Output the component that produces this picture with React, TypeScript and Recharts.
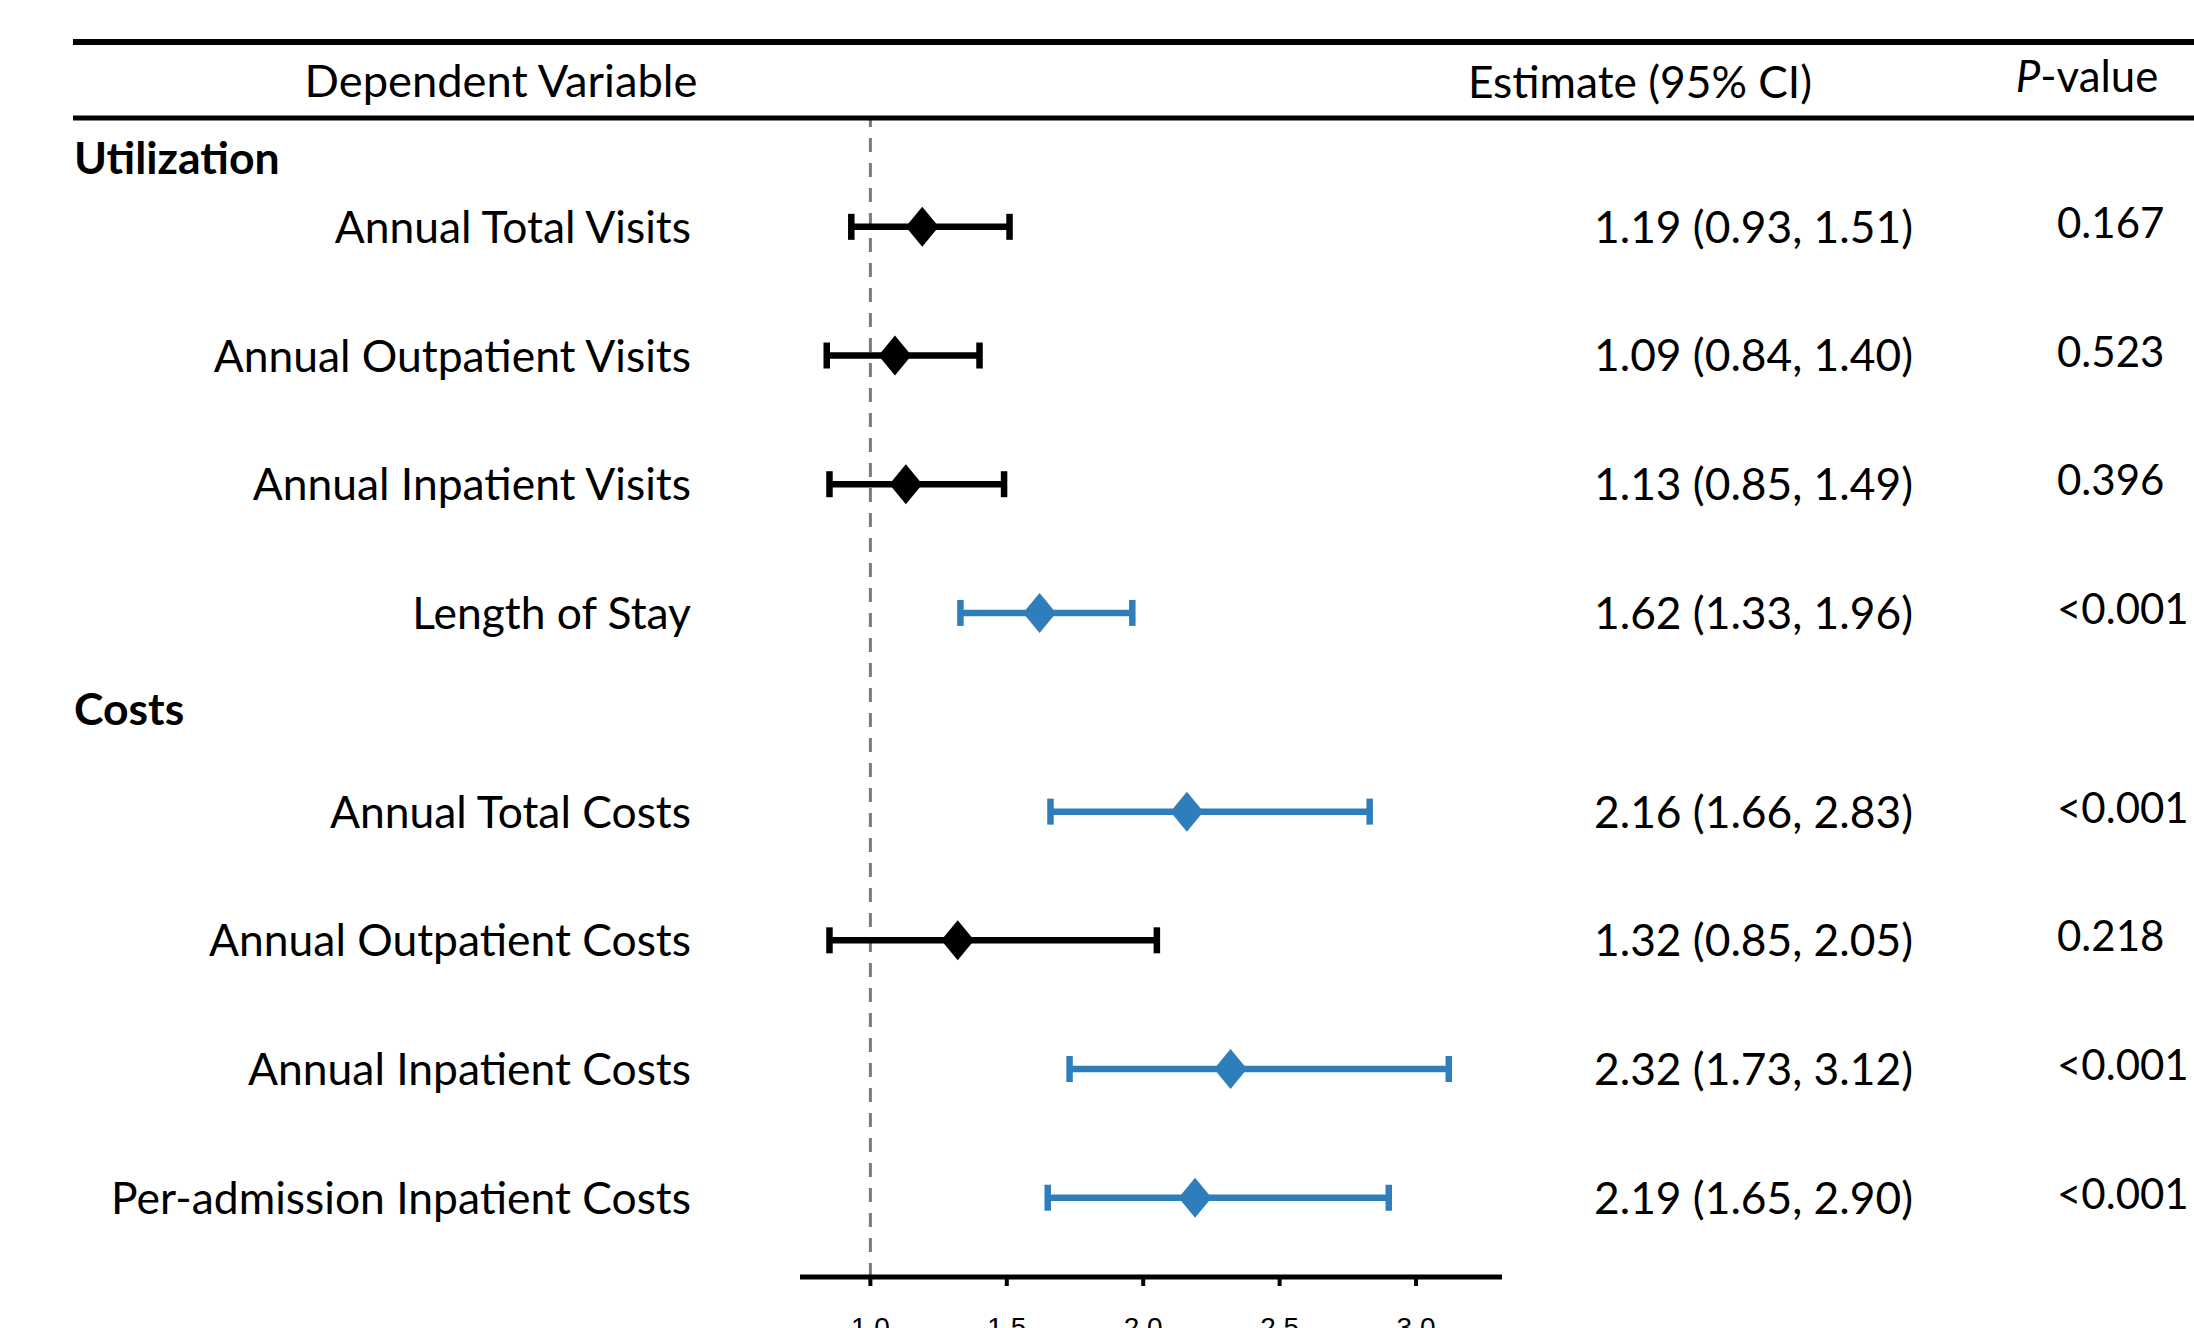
import { ScatterChart, Scatter, XAxis, YAxis, ErrorBar, ReferenceLine } from 'recharts';

// table data, top to bottom
const labels = [
  'Annual Total Visits',
  'Annual Outpatient Visits',
  'Annual Inpatient Visits',
  'Length of Stay',
  'Annual Total Costs',
  'Annual Outpatient Costs',
  'Annual Inpatient Costs',
  'Per-admission Inpatient Costs',
];
const groups = ['Utilization', 'Utilization', 'Utilization', 'Utilization', 'Costs', 'Costs', 'Costs', 'Costs'];
const groupNames = ['Utilization', 'Costs'];
const estimates = [1.19, 1.09, 1.13, 1.62, 2.16, 1.32, 2.32, 2.19];
const lower = [0.93, 0.84, 0.85, 1.33, 1.66, 0.85, 1.73, 1.65];
const upper = [1.51, 1.4, 1.49, 1.96, 2.83, 2.05, 3.12, 2.9];
const pValues = ['0.167', '0.523', '0.396', '<0.001', '<0.001', '0.218', '<0.001', '<0.001'];
const xTicks = [1.0, 1.5, 2.0, 2.5, 3.0];

const BLUE = '#2e7ebb';
const BLACK = '#000000';
const FONT = 'Lato, sans-serif';

// layout
const W = 2194;
const H = 1328;
const GROUP_GAP = 0.544; // extra row space before the second group
const HEADER_OFFSET = [-0.533, -0.794]; // group header position relative to its first row
const LABEL_RIGHT = 691;
const EST_LEFT = 1594;
const P_LEFT = 2057;

const isSig = (p: string) => p.startsWith('<') || parseFloat(p) < 0.05;

const rows = labels.map((label, i) => {
  const g = groupNames.indexOf(groups[i]);
  return {
    label,
    pos: i + g * GROUP_GAP,
    est: estimates[i],
    err: [estimates[i] - lower[i], upper[i] - estimates[i]],
    ci: `${estimates[i].toFixed(2)} (${lower[i].toFixed(2)}, ${upper[i].toFixed(2)})`,
    p: pValues[i],
    sig: isSig(pValues[i]),
  };
});

const headerRows = groupNames.map((name, g) => {
  const first = rows.find((r) => groups[labels.indexOf(r.label)] === name)!;
  return { name, pos: first.pos + HEADER_OFFSET[g] };
});

const yTicks = [...headerRows.map((h) => h.pos), ...rows.map((r) => r.pos)].sort((a, b) => a - b);

const sigRows = rows.filter((r) => r.sig);
const nonSigRows = rows.filter((r) => !r.sig);

function Diamond(props: any) {
  const { cx, cy, fill } = props;
  if (cx == null || cy == null) return null;
  const hw = 16.5;
  const hh = 20;
  return <polygon points={`${cx},${cy - hh} ${cx + hw},${cy} ${cx},${cy + hh} ${cx - hw},${cy}`} fill={fill} />;
}

function RowTick(props: any) {
  const { y, payload } = props;
  const v = payload?.value;
  const header = headerRows.find((h) => Math.abs(h.pos - v) < 1e-6);
  if (header) {
    return (
      <text x={74} y={y} dy="0.36em" textAnchor="start" fontFamily={FONT} fontWeight={700} fontSize={44.5} fill="#000">
        {header.name}
      </text>
    );
  }
  const row = rows.find((r) => Math.abs(r.pos - v) < 1e-6);
  if (!row) return null;
  return (
    <g>
      <text x={LABEL_RIGHT} y={y} dy="0.36em" textAnchor="end" fontFamily={FONT} fontSize={44.4} fill="#000">
        {row.label}
      </text>
      <text x={EST_LEFT} y={y} dy="0.36em" textAnchor="start" fontFamily={FONT} fontSize={44.3} fill="#000">
        {row.ci}
      </text>
      <text x={P_LEFT} y={y - 4} dy="0.36em" textAnchor="start" fontFamily={FONT} fontSize={42} fill="#000">
        {row.p}
      </text>
    </g>
  );
}

export default function App() {
  return (
    <div style={{ position: 'absolute', left: 0, top: 0, width: W, height: H, background: '#fff' }}>
      <ScatterChart width={W} height={H} margin={{ top: 120, right: 692, bottom: 0, left: 0 }}>
        <XAxis
          type="number"
          dataKey="est"
          domain={[0.742, 3.315]}
          allowDataOverflow
          ticks={xTicks}
          interval={0}
          height={51}
          tickFormatter={(v: number) => v.toFixed(1)}
          axisLine={{ stroke: '#000', strokeWidth: 5 }}
          tickLine={{ stroke: '#000', strokeWidth: 4 }}
          tickSize={9}
          tickMargin={31}
          tick={{ fontSize: 28, fill: '#000', fontFamily: 'Liberation Sans, Arial, sans-serif' }}
        />
        <YAxis
          type="number"
          dataKey="pos"
          domain={[-0.83, 8.16]}
          allowDataOverflow
          reversed
          ticks={yTicks}
          interval={0}
          width={800}
          axisLine={false}
          tickLine={false}
          tick={RowTick}
        />
        <ReferenceLine x={1} stroke="#7a7a7a" strokeWidth={3} strokeDasharray="14 11" />
        <Scatter data={nonSigRows} fill={BLACK} shape={Diamond} isAnimationActive={false}>
          <ErrorBar dataKey="err" direction="x" width={13} strokeWidth={6.5} stroke={BLACK} isAnimationActive={false} />
        </Scatter>
        <Scatter data={sigRows} fill={BLUE} shape={Diamond} isAnimationActive={false}>
          <ErrorBar dataKey="err" direction="x" width={13} strokeWidth={6.5} stroke={BLUE} isAnimationActive={false} />
        </Scatter>
      </ScatterChart>
      <svg width={W} height={H} style={{ position: 'absolute', left: 0, top: 0, pointerEvents: 'none' }}>
        <line x1={73} x2={W} y1={42} y2={42} stroke="#000" strokeWidth={6} />
        <line x1={73} x2={W} y1={118} y2={118} stroke="#000" strokeWidth={5} />
        <text x={501} y={81} dy="0.36em" textAnchor="middle" fontFamily={FONT} fontSize={45.3} fill="#000">
          Dependent Variable
        </text>
        <text x={1640} y={82} dy="0.36em" textAnchor="middle" fontFamily={FONT} fontSize={44.3} fill="#000">
          Estimate (95% CI)
        </text>
        <text x={2087} y={76} dy="0.36em" textAnchor="middle" fontFamily={FONT} fontSize={43.8} fill="#000">
          <tspan fontStyle="italic">P</tspan>-value
        </text>
      </svg>
    </div>
  );
}
